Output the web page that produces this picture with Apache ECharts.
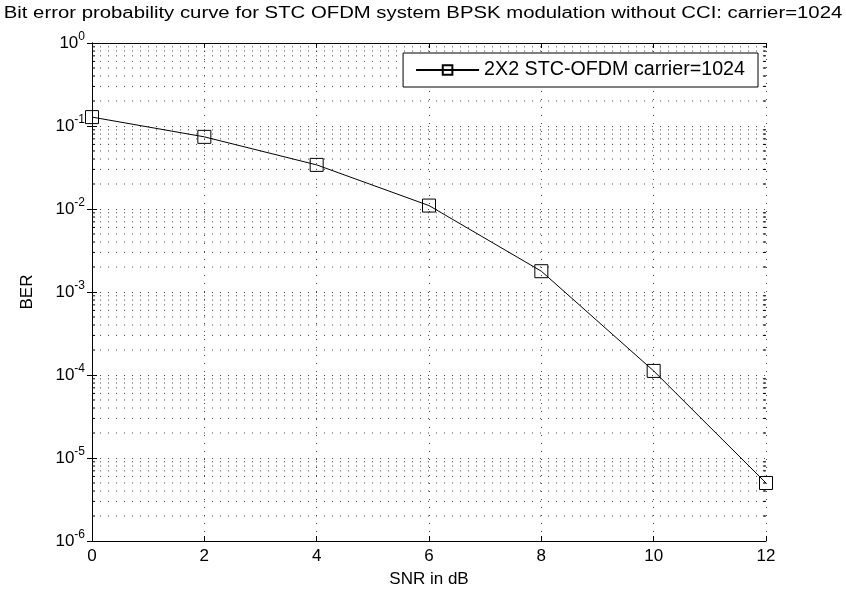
<!DOCTYPE html>
<html lang="en">
<head>
    <meta charset="UTF-8">
    <title>BER STC OFDM</title>
    <script src="https://cdn.jsdelivr.net/npm/echarts@6/dist/echarts.min.js"></script>
</head>
<body style="margin:0;background:#fff">
    <div id="main" style="width: 846px;height: 592px"></div>
<script>
    // data
    var snr = [0, 2, 4, 6, 8, 10, 12];
    var ber = [0.128, 0.074, 0.034, 0.011, 0.00178, 0.000112, 0.000005];
    var seriesName = '2X2 STC-OFDM carrier=1024';
    var xTicks = [0, 2, 4, 6, 8, 10, 12];
    var titleText = 'Bit error probability curve for STC OFDM system BPSK modulation without CCI: carrier=1024';

    // minor grid lines and minor ticks at 2..9 x 10^k, as broken line series
    var minorGrid = [];
    var minorTicks = [];
    for (var k = -6; k < 0; k++) {
        for (var m = 2; m <= 9; m++) {
            var v = m * Math.pow(10, k);
            minorGrid.push([0, v], [12, v], '-');
            minorTicks.push([0, v], [0.055, v], '-', [11.945, v], [12, v], '-');
        }
    }

    var font = 'Liberation Sans, Arial, sans-serif';
    var dotted = {color: '#444', type: [1, 7], width: 1};

    var chart = echarts.init(document.getElementById('main'));
    var option = {
        backgroundColor: '#fff',
        animation: false,
        graphic: [{
            type: 'text',
            x: 423, y: 14,
            scaleX: 1.27,
            style: {
                text: titleText,
                font: '16px Liberation Sans',
                fill: '#000',
                align: 'center',
                verticalAlign: 'middle'
            }
        }],
        legend: {
            data: [seriesName],
            right: 88,
            top: 53,
            backgroundColor: '#fff',
            borderColor: '#000',
            borderWidth: 1,
            borderRadius: 0,
            padding: [7, 13, 7, 12],
            itemWidth: 63,
            itemHeight: 12,
            textStyle: {fontFamily: font, fontSize: 19.7, color: '#000'}
        },
        grid: {left: 92, right: 80, top: 43, bottom: 51, outerBoundsMode: 'none'},
        xAxis: [{
            type: 'value',
            min: 0, max: 12, interval: 2,
            name: 'SNR in dB',
            nameLocation: 'middle',
            nameGap: 30,
            nameTextStyle: {fontFamily: font, fontSize: 17, color: '#000'},
            axisLine: {lineStyle: {color: '#000', width: 1}},
            axisTick: {inside: true, length: 5, lineStyle: {color: '#000'}},
            axisLabel: {
                fontFamily: font, fontSize: 17, color: '#000', margin: 7,
                formatter: function (v) { return xTicks.indexOf(v) >= 0 ? String(v) : ''; }
            },
            splitLine: {show: true, lineStyle: dotted}
        }, {
            type: 'value',
            position: 'top',
            min: 0, max: 12, interval: 2,
            axisLine: {lineStyle: {color: '#000', width: 1}},
            axisTick: {inside: true, length: 5, lineStyle: {color: '#000'}},
            axisLabel: {show: false},
            splitLine: {show: false}
        }],
        yAxis: [{
            type: 'log',
            logBase: 10,
            min: 1e-6, max: 1,
            name: 'BER',
            nameLocation: 'middle',
            nameGap: 56,
            nameTextStyle: {fontFamily: font, fontSize: 17, color: '#000'},
            axisLine: {show: true, lineStyle: {color: '#000', width: 1}},
            axisTick: {show: true, inside: true, length: 5, lineStyle: {color: '#000'}},
            axisLabel: {
                margin: 7,
                formatter: function (v) {
                    var e = Math.round(Math.log10(v));
                    return '{b|10}{s|' + e + '}';
                },
                rich: {
                    b: {fontFamily: font, fontSize: 17, color: '#000'},
                    s: {fontFamily: font, fontSize: 12, color: '#000', padding: [0, 0, 13, 0]}
                }
            },
            splitLine: {show: true, lineStyle: dotted}
        }, {
            type: 'log',
            logBase: 10,
            position: 'right',
            min: 1e-6, max: 1,
            axisLine: {show: true, lineStyle: {color: '#000', width: 1}},
            axisTick: {show: true, inside: true, length: 5, lineStyle: {color: '#000'}},
            axisLabel: {show: false},
            splitLine: {show: false}
        }],
        series: [{
            name: 'minor grid',
            type: 'line',
            data: minorGrid,
            symbol: 'none',
            silent: true,
            connectNulls: false,
            lineStyle: dotted,
            z: 1
        }, {
            name: 'minor ticks',
            type: 'line',
            data: minorTicks,
            symbol: 'none',
            silent: true,
            connectNulls: false,
            lineStyle: {color: '#000', width: 1},
            z: 2
        }, {
            name: seriesName,
            type: 'line',
            data: snr.map(function (x, i) { return [x, ber[i]]; }),
            symbol: 'rect',
            symbolSize: 13,
            lineStyle: {color: '#000', width: 1},
            itemStyle: {color: 'rgba(0,0,0,0)', borderColor: '#000', borderWidth: 1},
            z: 5
        }]
    };
    chart.setOption(option);
</script>
</body>
</html>
